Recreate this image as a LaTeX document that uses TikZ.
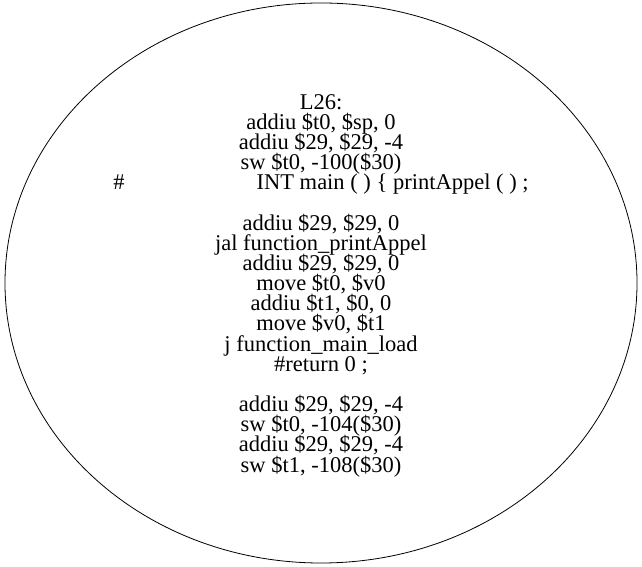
\documentclass[tikz,border=0pt]{standalone}
\usepackage{fontspec}
\setmainfont{Liberation Serif}
\usetikzlibrary{shapes.geometric}
\newcommand\mycodefont{\fontsize{22.5bp}{20.17bp}\selectfont\lineskiplimit=-100pt\relax\lineskip=0pt\relax}
\tikzset{
  blockshape/.style={draw, ellipse, line width=0.8bp, minimum width=632bp, minimum height=560bp, inner sep=0pt},
  codetext/.style={align=center, inner sep=0pt, font=\mycodefont}
}
\begin{document}
\begin{tikzpicture}[x=1bp,y=1bp]
\useasboundingbox (0,0) rectangle (642,567);
\node[blockshape] (e) at (321,284) {};
\node[codetext] (t) at ([yshift=-2.5bp]e.center) {L26:\\
addiu \$t0, \$sp, 0\\
addiu \$29, \$29, -4\\
sw \$t0, -100(\$30)\\
\#\hspace{132bp}INT main ( ) \{ printAppel ( ) ;\\
~\\
addiu \$29, \$29, 0\\
jal function\_printAppel\\
addiu \$29, \$29, 0\\
move \$t0, \$v0\\
addiu \$t1, \$0, 0\\
move \$v0, \$t1\\
j function\_main\_load\\
\#return 0 ;\\
~\\
addiu \$29, \$29, -4\\
sw \$t0, -104(\$30)\\
addiu \$29, \$29, -4\\
sw \$t1, -108(\$30)};
\end{tikzpicture}
\end{document}
